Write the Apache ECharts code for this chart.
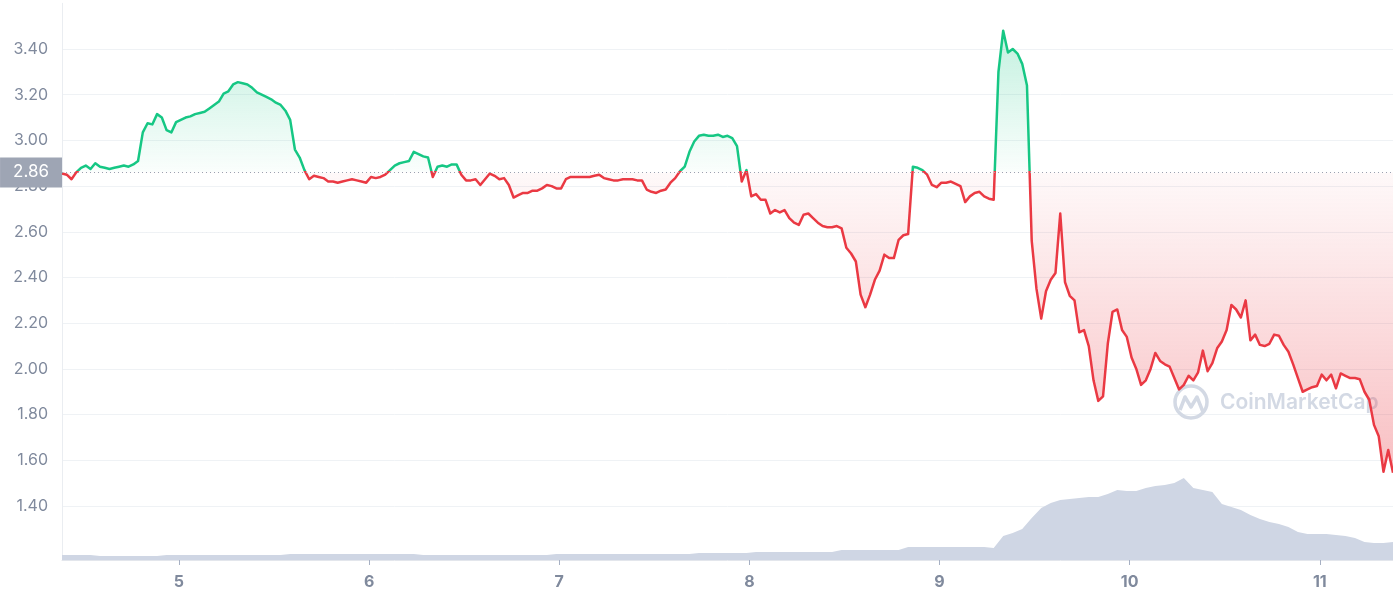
<!DOCTYPE html>
<html>
<head>
<meta charset="utf-8">
<script src="https://cdn.jsdelivr.net/npm/echarts@6/dist/echarts.min.js"></script>
<style>
html,body{margin:0;padding:0;background:#fff;}
#chart{width:1393px;height:600px;}
</style>
</head>
<body>
<div id="chart"></div>
<script>
// time sampling of the price series (day of month)
const priceStart = 4.385;
const priceStep = 0.025;
const prices = [
  2.855, 2.85, 2.83, 2.86, 2.88, 2.89, 2.875, 2.90, 2.885, 2.88,
  2.875, 2.88, 2.885, 2.89, 2.885, 2.895, 2.91, 3.035, 3.075, 3.07,
  3.115, 3.10, 3.045, 3.035, 3.08, 3.09, 3.10, 3.105, 3.115, 3.12,
  3.125, 3.14, 3.155, 3.17, 3.205, 3.215, 3.245, 3.255, 3.25, 3.245,
  3.23, 3.21, 3.20, 3.19, 3.18, 3.165, 3.155, 3.13, 3.09, 2.96,
  2.925, 2.87, 2.83, 2.845, 2.84, 2.835, 2.82, 2.82, 2.815, 2.82,
  2.825, 2.83, 2.825, 2.82, 2.815, 2.84, 2.835, 2.84, 2.85, 2.87,
  2.89, 2.90, 2.905, 2.91, 2.95, 2.94, 2.93, 2.925, 2.84, 2.885,
  2.89, 2.885, 2.895, 2.895, 2.85, 2.825, 2.825, 2.83, 2.805, 2.83,
  2.855, 2.845, 2.83, 2.835, 2.805, 2.75, 2.76, 2.77, 2.77, 2.78,
  2.78, 2.79, 2.805, 2.80, 2.79, 2.79, 2.83, 2.84, 2.84, 2.84,
  2.84, 2.84, 2.845, 2.85, 2.835, 2.83, 2.825, 2.825, 2.83, 2.83,
  2.83, 2.825, 2.825, 2.785, 2.775, 2.77, 2.78, 2.785, 2.815, 2.835,
  2.865, 2.885, 2.95, 2.995, 3.02, 3.025, 3.02, 3.02, 3.025, 3.015,
  3.02, 3.01, 2.975, 2.82, 2.87, 2.755, 2.765, 2.74, 2.74, 2.68,
  2.695, 2.685, 2.695, 2.66, 2.64, 2.63, 2.675, 2.68, 2.66, 2.64,
  2.625, 2.62, 2.62, 2.625, 2.615, 2.53, 2.505, 2.47, 2.325, 2.27,
  2.325, 2.39, 2.43, 2.50, 2.485, 2.485, 2.565, 2.585, 2.59, 2.885,
  2.88, 2.87, 2.85, 2.805, 2.795, 2.815, 2.815, 2.82, 2.81, 2.80,
  2.73, 2.755, 2.77, 2.775, 2.755, 2.745, 2.74, 3.30, 3.48, 3.385,
  3.40, 3.38, 3.335, 3.24, 2.56, 2.35, 2.22, 2.34, 2.39, 2.42,
  2.68, 2.38, 2.32, 2.30, 2.16, 2.17, 2.10, 1.95, 1.86, 1.88,
  2.11, 2.25, 2.26, 2.17, 2.14, 2.05, 2.00, 1.93, 1.95, 2.00,
  2.07, 2.035, 2.02, 2.01, 1.96, 1.91, 1.93, 1.97, 1.95, 1.985,
  2.08, 1.99, 2.025, 2.09, 2.12, 2.17, 2.28, 2.26, 2.225, 2.30,
  2.125, 2.15, 2.105, 2.10, 2.11, 2.15, 2.145, 2.105, 2.075, 2.02,
  1.96, 1.90, 1.91, 1.92, 1.925, 1.975, 1.95, 1.975, 1.915, 1.98,
  1.97, 1.96, 1.96, 1.955, 1.90, 1.865, 1.755, 1.705, 1.55, 1.645,
  1.545
];
// volume (relative units) sampled every 0.05 day
const volStart = 4.385;
const volStep = 0.05;
const volumes = [
  5, 5, 5, 5, 4, 4, 4, 4, 4, 4, 4,
  5, 5, 5, 5, 5, 5, 5, 5, 5, 5, 5, 5, 5,
  6, 6, 6, 6, 6, 6, 6, 6, 6, 6, 6, 6, 6, 6,
  5, 5, 5, 5, 5, 5, 5, 5, 5, 5, 5, 5, 5, 5,
  6, 6, 6, 6, 6, 6, 6, 6, 6, 6, 6, 6, 6, 6, 6,
  7, 7, 7, 7, 7, 7,
  8, 8, 8, 8, 8, 8, 8, 8, 8,
  10, 10, 10, 10, 10, 10, 10,
  13, 13, 13, 13, 13, 13, 13, 13, 13,
  12,
  24, 27, 31, 42, 52, 57, 60, 61, 62, 63, 63, 66, 70, 69, 69, 72, 74, 75, 77, 82,
  72, 70, 68, 56, 53, 50, 45, 41, 38, 36, 33, 28, 26, 26, 26, 25, 24, 22, 18, 17, 17, 18
];
const baseline = 2.86;
const dayTicks = [5, 6, 7, 8, 9, 10, 11];
const xMin = 4.385, xMax = 11.385;

const GREEN = '#16c784', RED = '#ea3943';
const priceData = prices.map((p, i) => [priceStart + i * priceStep, p]);
const volData = volumes.map((v, i) => [volStart + i * volStep, v]);
const pMax = Math.max(...prices), pMin = Math.min(...prices);
const bOff = (pMax - baseline) / (pMax - pMin);

const chart = echarts.init(document.getElementById('chart'), null, {renderer: 'canvas'});
const labelColor = '#808a9d';
chart.setOption({
  animation: false,
  textStyle: {fontFamily: 'Inter, sans-serif'},
  grid: [
    {left: 62, right: 0, top: 3.3, bottom: 48.3},
    {left: 62, right: 0, top: 460, bottom: 40}
  ],
  xAxis: [
    {type: 'value', gridIndex: 0, min: xMin, max: xMax, show: false},
    {type: 'value', gridIndex: 1, min: xMin, max: xMax,
      axisLine: {show: true, lineStyle: {color: '#e3e6ec', width: 1}},
      axisTick: {show: true, customValues: dayTicks, length: 5, lineStyle: {color: '#a6b0c3'}},
      axisLabel: {customValues: dayTicks, color: labelColor, fontSize: 16, fontWeight: 'bold', margin: 14,
        fontFamily: 'Inter, sans-serif'},
      splitLine: {show: false}}
  ],
  yAxis: [
    {type: 'value', gridIndex: 0, min: 1.2, max: 3.6, interval: 0.2,
      axisLine: {show: true, lineStyle: {color: '#eaedf1'}},
      axisTick: {show: false},
      axisLabel: {formatter: v => v.toFixed(2), color: labelColor, fontSize: 16, margin: 14,
        showMinLabel: false, showMaxLabel: false, fontFamily: 'Inter, sans-serif'},
      splitLine: {show: true, lineStyle: {color: '#eff2f5'}, showMinLine: false, showMaxLine: false}},
    {type: 'value', gridIndex: 1, min: 0, max: 100,
      axisLine: {show: true, lineStyle: {color: '#eaedf1'}},
      axisTick: {show: false}, axisLabel: {show: false}, splitLine: {show: false}}
  ],
  graphic: [
    {type: 'circle', z: 1, shape: {cx: 1191, cy: 402, r: 16},
      style: {fill: 'none', stroke: '#d3d9e4', lineWidth: 3.5}},
    {type: 'polyline', z: 1, shape: {points: [[1180, 410], [1185, 397], [1191, 407], [1197, 397], [1203, 412]]},
      style: {fill: 'none', stroke: '#d3d9e4', lineWidth: 3.5, lineJoin: 'round'}},
    {type: 'text', z: 1, x: 1220, y: 403,
      style: {text: 'CoinMarketCap', font: '600 21px Inter, sans-serif', fill: '#d3d9e4', verticalAlign: 'middle'}}
  ],
  series: [
    {type: 'line', name: 'Volume', xAxisIndex: 1, yAxisIndex: 1, data: volData,
      symbol: 'none', z: 2, silent: true,
      lineStyle: {width: 0}, itemStyle: {color: '#cfd6e4'},
      areaStyle: {color: '#cfd6e4', opacity: 1}},
    {type: 'line', name: 'Price', xAxisIndex: 0, yAxisIndex: 0, data: priceData,
      symbol: 'none', z: 3, silent: true,
      lineStyle: {width: 2.5, join: 'round', color: new echarts.graphic.LinearGradient(0, 0, 0, 1, [
          {offset: 0, color: GREEN},
          {offset: bOff, color: GREEN},
          {offset: bOff, color: RED},
          {offset: 1, color: RED}
        ])},
      areaStyle: {
        origin: baseline, opacity: 1,
        color: new echarts.graphic.LinearGradient(0, 0, 0, 1, [
          {offset: 0, color: 'rgba(22,199,132,0.26)'},
          {offset: bOff, color: 'rgba(22,199,132,0.02)'},
          {offset: bOff, color: 'rgba(234,57,67,0.03)'},
          {offset: 1, color: 'rgba(234,57,67,0.32)'}
        ])
      },
      markLine: {
        silent: true, symbol: ['none', 'none'],
        lineStyle: {type: [1, 3], color: '#9aa1b0', width: 1},
        label: {show: true, position: 'start', distance: 0, formatter: baseline.toFixed(2),
          color: '#ffffff', backgroundColor: '#9ea5b4', padding: [6, 13, 6, 13], fontSize: 17,
          lineHeight: 18, fontFamily: 'Inter, sans-serif'},
        data: [{yAxis: baseline}]
      }
    }
  ]
});
</script>
</body>
</html>
